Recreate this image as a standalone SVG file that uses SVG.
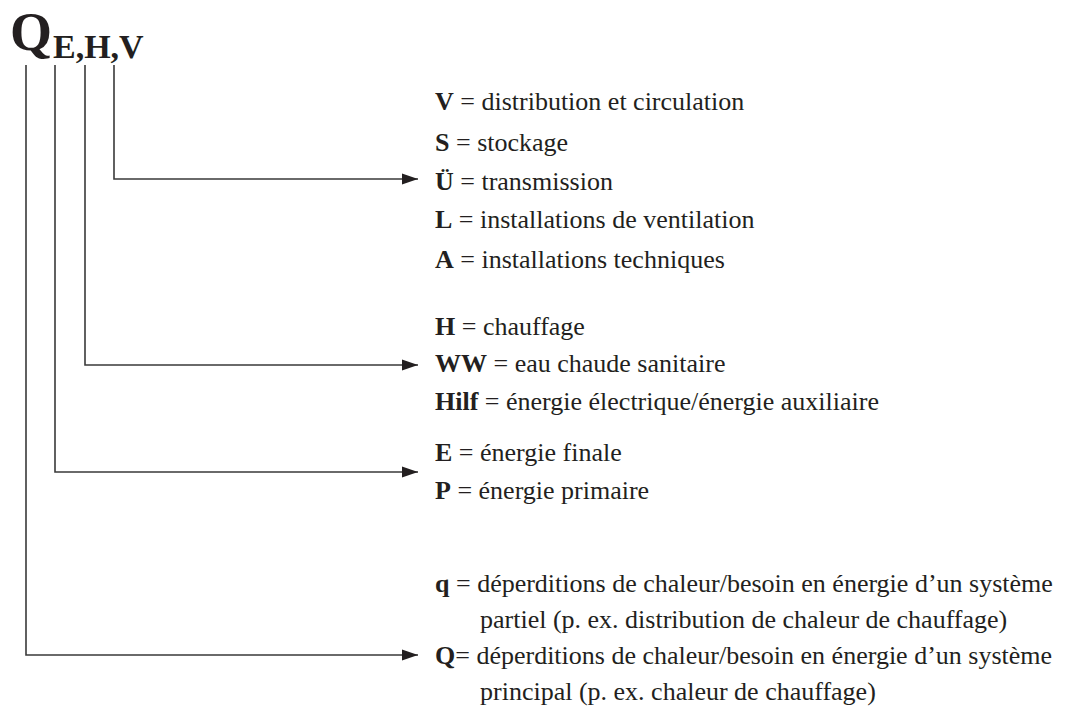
<svg xmlns="http://www.w3.org/2000/svg" width="1082" height="710" viewBox="0 0 1082 710">
<defs>
<style>
text{font-family:"Liberation Serif","Times New Roman",serif;fill:#231f20}
.t{font-size:26px}
.b{font-weight:bold}
.ttl{font-weight:bold}
.ln{fill:none;stroke:#3a3a3a;stroke-width:1.6}
</style>
<marker id="ah" markerWidth="16" markerHeight="12" refX="16" refY="6" orient="auto" markerUnits="userSpaceOnUse">
<path d="M0,0.5 L16,6 L0,11.5 Z" fill="#231f20"/>
</marker>
</defs>
<rect width="1082" height="710" fill="#ffffff"/>
<g id="title">
<text class="ttl" x="10" y="50" font-size="54">Q</text>
<text class="ttl" x="53" y="58" font-size="34">E,H,V</text>
</g>
<g id="connectors">
<path class="ln" d="M114,65 V179 H418" marker-end="url(#ah)"/>
<path class="ln" d="M85,65 V365 H418" marker-end="url(#ah)"/>
<path class="ln" d="M55,65 V472 H418" marker-end="url(#ah)"/>
<path class="ln" d="M26,65 V655 H418" marker-end="url(#ah)"/>
</g>
<g id="group-V">
<text class="t" x="435" y="110"><tspan class="b">V</tspan> = distribution et circulation</text>
<text class="t" x="435" y="151"><tspan class="b">S</tspan> = stockage</text>
<text class="t" x="435" y="190"><tspan class="b">Ü</tspan> = transmission</text>
<text class="t" x="435" y="228"><tspan class="b">L</tspan> = installations de ventilation</text>
<text class="t" x="435" y="268"><tspan class="b">A</tspan> = installations techniques</text>
</g>
<g id="group-H">
<text class="t" x="435" y="335"><tspan class="b">H</tspan> = chauffage</text>
<text class="t" x="435" y="372"><tspan class="b">WW</tspan> = eau chaude sanitaire</text>
<text class="t" x="435" y="410"><tspan class="b">Hilf</tspan> = énergie électrique/énergie auxiliaire</text>
</g>
<g id="group-E">
<text class="t" x="435" y="461"><tspan class="b">E</tspan> = énergie finale</text>
<text class="t" x="435" y="499"><tspan class="b">P</tspan> = énergie primaire</text>
</g>
<g id="group-Q">
<text class="t" x="435" y="592"><tspan class="b">q</tspan> = déperditions de chaleur/besoin en énergie d’un système</text>
<text class="t" x="480" y="628">partiel (p. ex. distribution de chaleur de chauffage)</text>
<text class="t" x="435" y="664"><tspan class="b">Q</tspan>= déperditions de chaleur/besoin en énergie d’un système</text>
<text class="t" x="480" y="700">principal (p. ex. chaleur de chauffage)</text>
</g>
</svg>
